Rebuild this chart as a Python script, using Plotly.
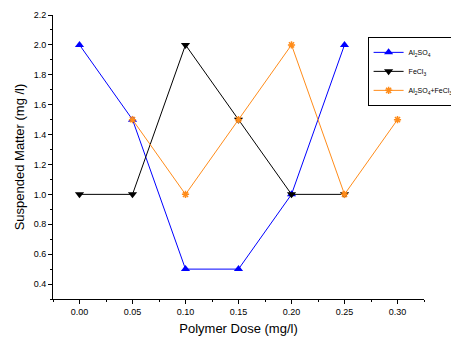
import plotly.graph_objects as go

dose_al = [0.00, 0.05, 0.10, 0.15, 0.20, 0.25]
al2so4 = [2.0, 1.5, 0.5, 0.5, 1.0, 2.0]
dose_fe = [0.00, 0.05, 0.10, 0.15, 0.20, 0.25]
fecl3 = [1.0, 1.0, 2.0, 1.5, 1.0, 1.0]
dose_mix = [0.05, 0.10, 0.15, 0.20, 0.25, 0.30]
mix = [1.5, 1.0, 1.5, 2.0, 1.0, 1.5]

fig = go.Figure()
fig.add_trace(go.Scatter(x=dose_al, y=al2so4, mode="lines+markers",
    name="Al<sub>2</sub>SO<sub>4</sub>",
    line=dict(color="#0000ff", width=1),
    marker=dict(symbol="triangle-up", size=8, color="#0000ff")))
fig.add_trace(go.Scatter(x=dose_fe, y=fecl3, mode="lines+markers",
    name="FeCl<sub>3</sub>",
    line=dict(color="#000000", width=1),
    marker=dict(symbol="triangle-down", size=8, color="#000000")))
fig.add_trace(go.Scatter(x=dose_mix, y=mix, mode="lines+markers",
    name="Al<sub>2</sub>SO<sub>4</sub>+FeCl<sub>3</sub>",
    line=dict(color="#ff8c1a", width=1),
    marker=dict(symbol="asterisk-open", size=6, line=dict(color="#ff8c1a", width=1.5))))

fig.update_layout(
    width=451, height=342,
    margin=dict(l=53, r=27, t=15, b=43, autoexpand=False),
    paper_bgcolor="white", plot_bgcolor="white",
    font=dict(family="Liberation Sans, Arial, sans-serif", color="#000000", size=9),
    showlegend=True,
    legend=dict(x=0.848, y=0.923, xanchor="left", yanchor="top",
                bordercolor="#000000", borderwidth=1, bgcolor="white",
                font=dict(size=7), tracegroupgap=0, itemwidth=30),
    xaxis=dict(range=[-0.025, 0.325], tickvals=[0, 0.05, 0.1, 0.15, 0.2, 0.25, 0.3],
               ticktext=["0.00", "0.05", "0.10", "0.15", "0.20", "0.25", "0.30"],
               showgrid=False, zeroline=False, showline=True, linecolor="#000000", linewidth=1,
               ticks="outside", ticklen=4, tickcolor="#000000",
               minor=dict(dtick=0.025, tick0=-0.025, ticks="outside", ticklen=2, tickcolor="#000000"),
               title=dict(text="Polymer Dose (mg/l)", font=dict(size=13), standoff=8)),
    yaxis=dict(range=[0.3, 2.2], tickvals=[0.4, 0.6, 0.8, 1.0, 1.2, 1.4, 1.6, 1.8, 2.0, 2.2],
               ticktext=["0.4", "0.6", "0.8", "1.0", "1.2", "1.4", "1.6", "1.8", "2.0", "2.2"],
               showgrid=False, zeroline=False, showline=True, linecolor="#000000", linewidth=1,
               ticks="outside", ticklen=4, tickcolor="#000000",
               minor=dict(dtick=0.1, tick0=0.3, ticks="outside", ticklen=2, tickcolor="#000000"),
               title=dict(text="Suspended Matter (mg /l)", font=dict(size=13), standoff=6)),
)

fig.write_html("out.html")
